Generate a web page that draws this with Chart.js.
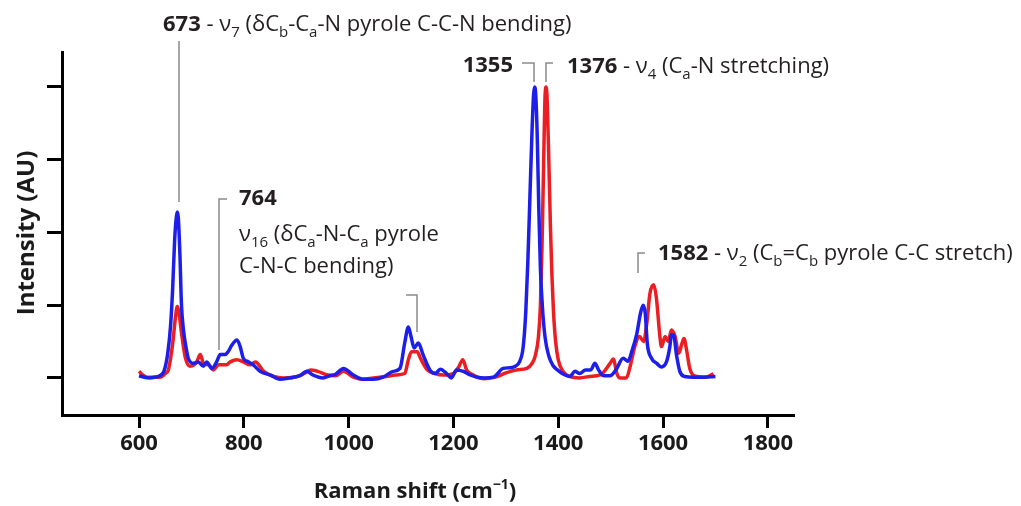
<!DOCTYPE html>
<html>
<head>
<meta charset="utf-8">
<script src="https://cdn.jsdelivr.net/npm/chart.js@4/dist/chart.umd.min.js"></script>
<style>
  html, body { margin: 0; padding: 0; background: #fff; }
  #wrap { width: 1021px; height: 506px; }
</style>
</head>
<body>
<div id="wrap"><canvas id="ramanChart" width="1021" height="506"></canvas></div>
<script>
// axis ticks
const xTicks = [600, 800, 1000, 1200, 1400, 1600, 1800];
const yTicks = [0, 1, 2, 3, 4];

// blue spectrum
const blueShift = [600, 610, 620, 630, 640, 648, 655, 660, 664, 668, 671, 673, 675, 678, 681, 685, 689, 694, 704, 713,
  723, 729, 739, 748, 755, 764, 770, 777, 787, 793, 799, 809, 818, 831, 850, 869, 888, 907, 920, 932,
  951, 964, 975, 990, 1009, 1028, 1047, 1066, 1085, 1098, 1107, 1114, 1119, 1125, 1133, 1142, 1155, 1165, 1175, 1187,
  1196, 1206, 1219, 1232, 1245, 1260, 1276, 1295, 1308, 1318, 1326, 1333, 1338, 1342, 1346, 1350, 1353, 1355, 1357, 1360,
  1363, 1366, 1370, 1375, 1382, 1390, 1400, 1410, 1422, 1432, 1441, 1452, 1462, 1470, 1477, 1486, 1499, 1510, 1524, 1533,
  1541, 1550, 1557, 1562, 1566, 1570, 1578, 1588, 1597, 1607, 1613, 1616, 1620, 1626, 1632, 1641, 1658, 1677, 1700];
const blueIntensity = [0.03, 0.01, 0.0, 0.01, 0.03, 0.1, 0.35, 0.7, 1.2, 1.9, 2.2, 2.28, 2.2, 1.7, 1.0, 0.65, 0.45, 0.27, 0.2, 0.22,
  0.16, 0.22, 0.13, 0.22, 0.32, 0.32, 0.36, 0.45, 0.52, 0.43, 0.27, 0.22, 0.18, 0.09, 0.04, -0.02, 0.0, 0.03, 0.09, 0.04,
  0.0, 0.03, 0.05, 0.13, 0.04, -0.02, -0.02, 0.01, 0.09, 0.13, 0.48, 0.7, 0.57, 0.41, 0.48, 0.32, 0.11, 0.06, 0.12, 0.06,
  0.0, 0.11, 0.09, 0.04, 0.01, 0.0, 0.01, 0.13, 0.14, 0.16, 0.22, 0.42, 0.9, 1.6, 2.5, 3.4, 3.9, 4.0, 3.9, 3.3,
  2.3, 1.5, 0.95, 0.55, 0.3, 0.17, 0.1, 0.05, 0.02, 0.09, 0.06, 0.11, 0.11, 0.2, 0.11, 0.03, 0.03, 0.11, 0.27, 0.23,
  0.38, 0.61, 0.89, 1.0, 0.89, 0.47, 0.27, 0.2, 0.15, 0.23, 0.43, 0.59, 0.59, 0.3, 0.09, 0.02, 0.01, 0.01, 0.02];

// red spectrum
const redShift = [600, 607, 615, 640, 650, 656, 661, 665, 669, 673, 677, 681, 688, 697, 705, 710, 717, 723, 733, 742,
  752, 761, 767, 774, 787, 799, 812, 822, 838, 857, 876, 902, 915, 928, 941, 960, 975, 990, 1009, 1028,
  1047, 1072, 1090, 1107, 1114, 1120, 1131, 1137, 1150, 1165, 1180, 1200, 1210, 1218, 1225, 1238, 1257, 1280, 1300, 1320,
  1340, 1350, 1356, 1362, 1366, 1369, 1372, 1375, 1377, 1379, 1382, 1385, 1388, 1391, 1395, 1400, 1408, 1422, 1441, 1460,
  1480, 1499, 1505, 1512, 1518, 1530, 1537, 1546, 1555, 1563, 1569, 1575, 1582, 1587, 1594, 1597, 1604, 1610, 1616, 1623,
  1630, 1636, 1640, 1645, 1651, 1664, 1683, 1696];
const redIntensity = [0.09, 0.04, 0.01, 0.01, 0.06, 0.11, 0.3, 0.52, 0.8, 0.98, 0.85, 0.62, 0.29, 0.16, 0.18, 0.22, 0.32, 0.2, 0.18, 0.11,
  0.18, 0.18, 0.18, 0.22, 0.25, 0.22, 0.18, 0.22, 0.09, 0.02, 0.0, 0.02, 0.06, 0.11, 0.09, 0.04, 0.03, 0.09, 0.01, -0.02,
  0.0, 0.02, 0.04, 0.06, 0.25, 0.36, 0.36, 0.27, 0.11, 0.06, 0.04, 0.06, 0.15, 0.25, 0.11, 0.04, -0.01, 0.01, 0.07, 0.11,
  0.13, 0.2, 0.3, 0.55, 1.0, 1.8, 2.9, 3.9, 4.0, 3.8, 3.0, 2.1, 1.4, 0.9, 0.5, 0.25, 0.1, 0.02, 0.0, 0.02,
  0.04, 0.2, 0.26, 0.06, 0.0, 0.0, 0.15, 0.43, 0.57, 0.5, 0.75, 1.16, 1.28, 1.12, 0.57, 0.43, 0.57, 0.5, 0.66, 0.57,
  0.34, 0.47, 0.54, 0.38, 0.13, 0.02, 0.01, 0.06];

const FONT = '"Open Sans", sans-serif';
const TEXT_SIZE = 22;

function toPoints(xs, ys) {
  return xs.map((x, i) => ({ x: x, y: ys[i] }));
}

// draws a run of [text, style] pieces: 'b' bold, 'n' normal, 'sub', 'bsup'
function drawRich(ctx, parts, x, y, size, align) {
  const fontFor = (st) => {
    if (st === 'b') return 'bold ' + size + 'px ' + FONT;
    if (st === 'bsup') return 'bold ' + Math.round(size * 0.62) + 'px ' + FONT;
    if (st === 'sub') return Math.round(size * 0.68) + 'px ' + FONT;
    return size + 'px ' + FONT;
  };
  let total = 0;
  parts.forEach(p => { ctx.font = fontFor(p[1]); total += ctx.measureText(p[0]).width; });
  let cx = x;
  if (align === 'right') cx = x - total;
  if (align === 'center') cx = x - total / 2;
  ctx.textAlign = 'left';
  ctx.textBaseline = 'alphabetic';
  parts.forEach(p => {
    ctx.font = fontFor(p[1]);
    let dy = 0;
    if (p[1] === 'sub') dy = size * 0.28;
    if (p[1] === 'bsup') dy = -size * 0.42;
    ctx.fillText(p[0], cx, y + dy);
    cx += ctx.measureText(p[0]).width;
  });
}

const annotations = {
  id: 'annotations',
  afterDraw(chart) {
    const ctx = chart.ctx;
    ctx.save();

    // leader lines
    ctx.strokeStyle = '#8a8a8a';
    ctx.lineWidth = 1.5;
    const paths = [
      [[179, 41], [179, 202]],
      [[522, 63], [534, 63], [534, 82]],
      [[553, 63], [546, 63], [546, 82]],
      [[227, 199], [219, 199], [219, 350]],
      [[406, 295], [417, 295], [417, 332]],
      [[645, 253], [638, 253], [638, 273]]
    ];
    paths.forEach(pts => {
      ctx.beginPath();
      ctx.moveTo(pts[0][0], pts[0][1]);
      for (let i = 1; i < pts.length; i++) ctx.lineTo(pts[i][0], pts[i][1]);
      ctx.stroke();
    });

    ctx.fillStyle = '#231f20';
    drawRich(ctx, [['673', 'b'], [' - ν', 'n'], ['7', 'sub'], [' (δC', 'n'], ['b', 'sub'], ['-C', 'n'], ['a', 'sub'], ['-N pyrole C-C-N bending)', 'n']], 163, 31, TEXT_SIZE);
    drawRich(ctx, [['1355', 'b']], 513, 72, TEXT_SIZE, 'right');
    drawRich(ctx, [['1376', 'b'], [' - ν', 'n'], ['4', 'sub'], [' (C', 'n'], ['a', 'sub'], ['-N stretching)', 'n']], 567, 73, TEXT_SIZE);
    drawRich(ctx, [['764', 'b']], 239, 205, TEXT_SIZE);
    drawRich(ctx, [['ν', 'n'], ['16', 'sub'], [' (δC', 'n'], ['a', 'sub'], ['-N-C', 'n'], ['a', 'sub'], [' pyrole', 'n']], 239, 241, TEXT_SIZE);
    drawRich(ctx, [['C-N-C bending)', 'n']], 239, 273, TEXT_SIZE);
    drawRich(ctx, [['1582', 'b'], [' - ν', 'n'], ['2', 'sub'], [' (C', 'n'], ['b', 'sub'], ['=C', 'n'], ['b', 'sub'], [' pyrole C-C stretch)', 'n']], 658, 260, TEXT_SIZE);

    // axis titles
    ctx.fillStyle = '#1a1a1a';
    drawRich(ctx, [['Raman shift (cm', 'b'], ['−1', 'bsup'], [')', 'b']], 415, 498, 22, 'center');
    ctx.translate(27, 233);
    ctx.rotate(-Math.PI / 2);
    ctx.font = 'bold 24px ' + FONT;
    ctx.textAlign = 'center';
    ctx.textBaseline = 'middle';
    ctx.fillText('Intensity (AU)', 0, 0);
    ctx.restore();
  }
};

const ctx = document.getElementById('ramanChart').getContext('2d');

const myChart = new Chart(ctx, {
  type: 'line',
  data: {
    datasets: [{
      label: 'blue',
      data: toPoints(blueShift, blueIntensity),
      borderColor: 'rgb(30, 30, 235)',
      borderWidth: 3.5,
      pointRadius: 0,
      tension: 0.3,
      cubicInterpolationMode: 'monotone'
    }, {
      label: 'red',
      data: toPoints(redShift, redIntensity),
      borderColor: 'rgb(235, 30, 35)',
      borderWidth: 3.5,
      pointRadius: 0,
      tension: 0.3,
      cubicInterpolationMode: 'monotone'
    }]
  },
  options: {
    responsive: false,
    animation: false,
    layout: { padding: { left: 0, top: 52, right: 228, bottom: 0 } },
    plugins: {
      legend: { display: false },
      tooltip: { enabled: false }
    },
    scales: {
      x: {
        type: 'linear',
        min: 453,
        max: 1848,
        afterBuildTicks: (scale) => { scale.ticks = xTicks.map(v => ({ value: v })); },
        afterFit: (scale) => { scale.height = 91; },
        border: { display: true, width: 3, color: '#000' },
        grid: { display: true, drawOnChartArea: false, drawTicks: true, tickLength: 13, tickWidth: 3, tickColor: '#000', color: '#000', lineWidth: 3 },
        ticks: {
          autoSkip: false,
          maxRotation: 0,
          padding: 3,
          color: '#1a1a1a',
          font: { family: FONT, size: 22, weight: 'bold' },
          callback: (v) => String(v)
        }
      },
      y: {
        type: 'linear',
        min: -0.51,
        max: 4.48,
        afterBuildTicks: (scale) => { scale.ticks = yTicks.map(v => ({ value: v })); },
        afterFit: (scale) => { scale.width = 62; },
        border: { display: true, width: 3, color: '#000' },
        grid: { display: true, drawOnChartArea: false, drawTicks: true, tickLength: 15, tickWidth: 3, tickColor: '#000', color: '#000', lineWidth: 3 },
        ticks: { display: false }
      }
    }
  },
  plugins: [annotations]
});
</script>
</body>
</html>
